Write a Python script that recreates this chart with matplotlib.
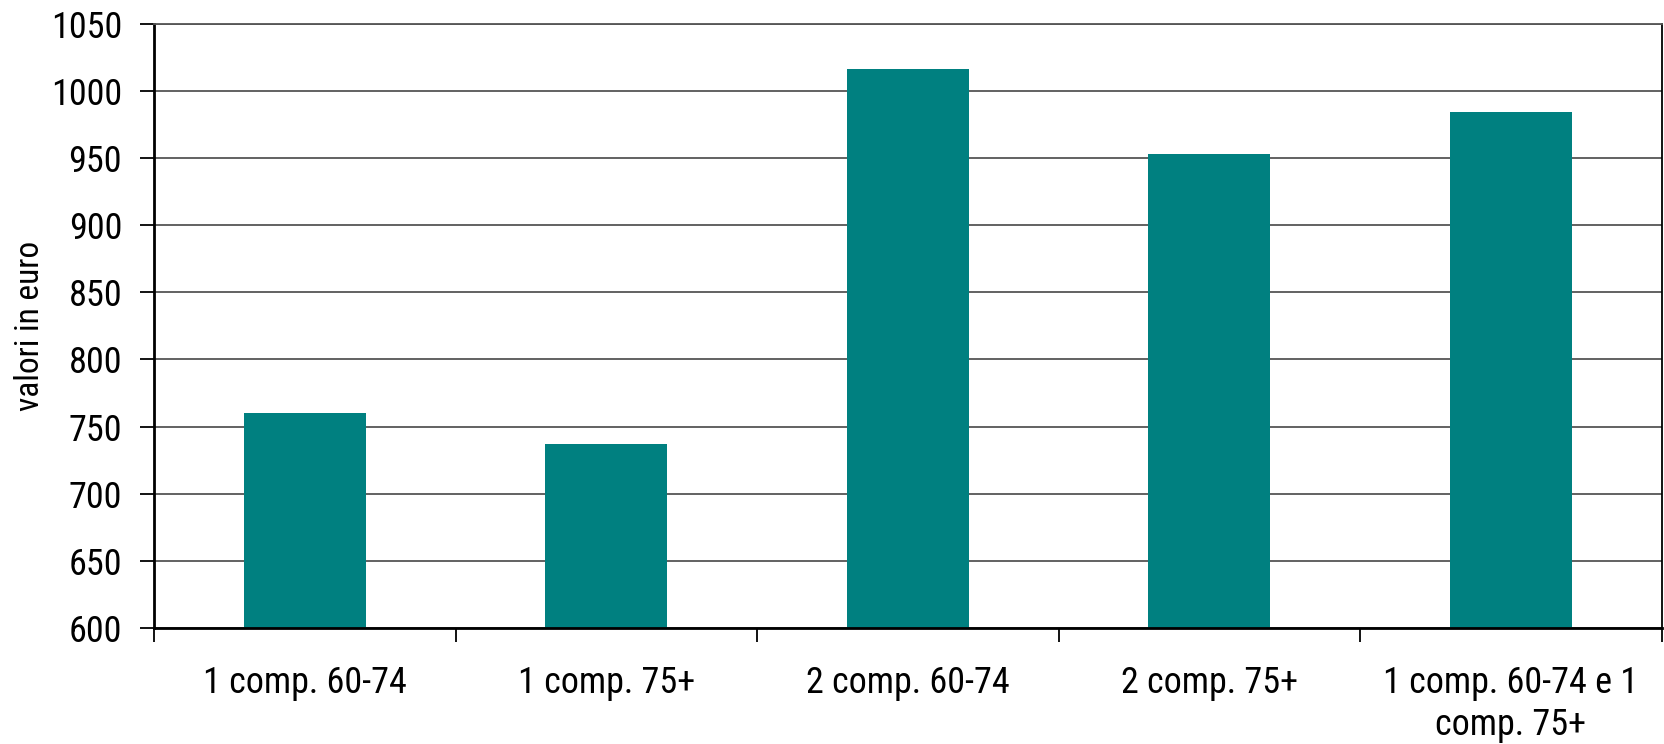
import matplotlib
matplotlib.use("Agg")
import matplotlib.pyplot as plt
from matplotlib import font_manager as fm
import numpy as np

categories = ["1 comp. 60-74", "1 comp. 75+", "2 comp. 60-74", "2 comp. 75+", "1 comp. 60-74 e 1\ncomp. 75+"]
values = [760, 737, 1016, 953, 984]
yticks = [600, 650, 700, 750, 800, 850, 900, 950, 1000, 1050]
ylabel = "valori in euro"

available = set(f.name for f in fm.fontManager.ttflist)
prefs = ['Liberation Sans Narrow', 'Arial Narrow', 'Roboto Condensed', 'PT Sans Narrow',
         'Archivo Narrow', 'Pragati Narrow', 'Asap Condensed']
chosen = [p for p in prefs if p in available]
plt.rcParams['font.family'] = chosen[:1] + ['DejaVu Sans']

fig = plt.figure(figsize=(16.65, 7.44), dpi=100)
ax = fig.add_axes([0.0925, 0.156, 0.9055, 0.812])

x = np.arange(len(categories))
ax.set_axisbelow(True)
ax.yaxis.grid(True, color="#555555", linewidth=1.3)
ax.bar(x, values, width=0.405, color="#008080", zorder=2)

ax.set_xlim(-0.5, len(categories) - 0.5)
ax.set_ylim(600, 1050)
ax.set_yticks(yticks)
ax.set_yticklabels([str(v) for v in yticks], fontsize=26)
ax.set_xticks(x)
ax.set_xticklabels(categories, fontsize=26, linespacing=1.2)
ax.set_xticks(np.arange(-0.5, len(categories)), minor=True)
ax.tick_params(axis="x", which="major", length=0, pad=27)
ax.tick_params(axis="x", which="minor", length=10, width=1.3, direction="out")
ax.tick_params(axis="y", length=10, width=1.3, direction="out", pad=13)

for s in ["left", "bottom"]:
    ax.spines[s].set_linewidth(2)
ax.spines["right"].set_linewidth(1.3)
ax.spines["top"].set_linewidth(1.3)
ax.spines["top"].set_color("#555555")

ax.set_ylabel(ylabel, fontsize=24, va="center")
ax.yaxis.set_label_coords((30 - 154) / 1508, 0.5)

fig.savefig("out.png", dpi=100)
